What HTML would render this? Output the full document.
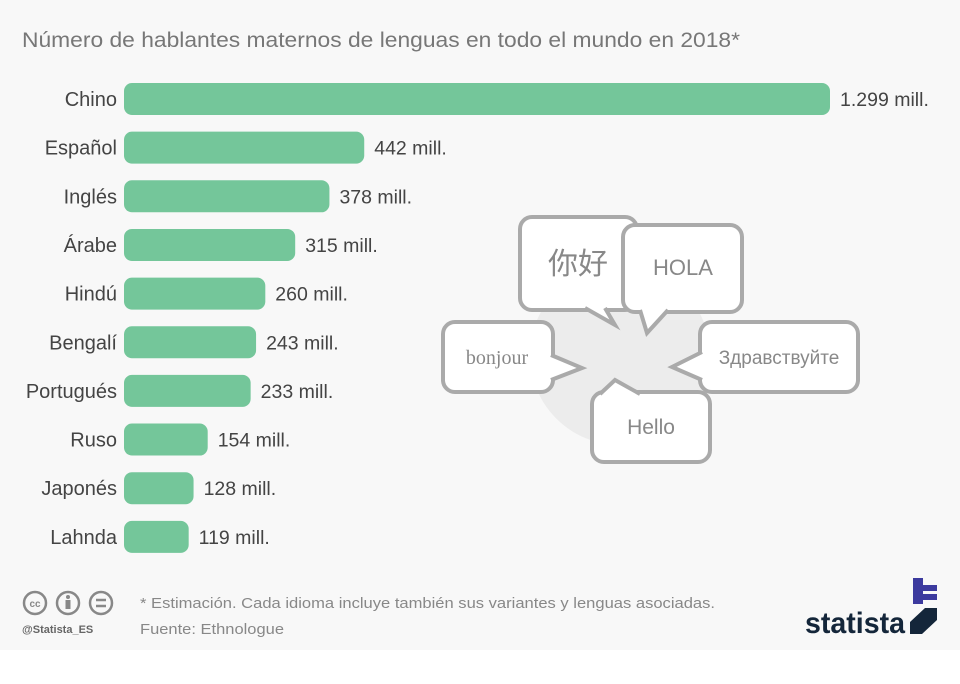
<!DOCTYPE html>
<html><head><meta charset="utf-8"><style>
body{margin:0;width:960px;height:684px;background:#fff;overflow:hidden;font-family:"Liberation Sans","Noto Sans CJK SC",sans-serif}
svg{display:block}
</style></head><body>
<svg width="960" height="684">
<rect x="0" y="0" width="960" height="650" fill="#f8f8f8"/>
<text x="22" y="47" font-size="21" fill="#777" textLength="718" lengthAdjust="spacingAndGlyphs">Número de hablantes maternos de lenguas en todo el mundo en 2018*</text>
<g id="bars"></g>
<g>
<circle cx="620" cy="355" r="90" fill="#ececec"/>
<g id="bubbles"></g>
</g>
<g fill="none" stroke="#888" stroke-width="2.5">
<circle cx="35" cy="603" r="11"/><circle cx="68" cy="603" r="11"/><circle cx="101" cy="603" r="11"/>
<text x="35" y="607" font-size="10" fill="#888" stroke="none" text-anchor="middle" font-weight="bold">cc</text>
<circle cx="68" cy="597" r="2" fill="#888" stroke="none"/><rect x="65.5" y="600" width="5" height="9" fill="#888" stroke="none"/>
<line x1="96" y1="600" x2="106" y2="600"/><line x1="96" y1="606" x2="106" y2="606"/>
</g>
<text x="22" y="633" font-size="11" fill="#666" font-weight="bold">@Statista_ES</text>
<text x="140" y="608" font-size="15" fill="#888" textLength="575" lengthAdjust="spacingAndGlyphs">* Estimación. Cada idioma incluye también sus variantes y lenguas asociadas.</text>
<text x="140" y="634" font-size="15" fill="#888" textLength="144" lengthAdjust="spacingAndGlyphs">Fuente: Ethnologue</text>
<g>
<rect x="913" y="578" width="10" height="26" fill="#3c3a9e"/><rect x="923" y="585" width="14" height="6" fill="#3c3a9e"/><rect x="923" y="594" width="14" height="6" fill="#3c3a9e"/>
<text x="805" y="633" font-size="30" font-weight="bold" fill="#14263a" textLength="100" lengthAdjust="spacingAndGlyphs">statista</text>
<polygon points="910,608 937,608 937,620 922,634 910,634 910,622 925,608" fill="#14263a"/>
</g>
</svg>
<script>
const categories=["Chino","Español","Inglés","Árabe","Hindú","Bengalí","Portugués","Ruso","Japonés","Lahnda"];
const values=[1299,442,378,315,260,243,233,154,128,119];
const valueLabels=["1.299 mill.","442 mill.","378 mill.","315 mill.","260 mill.","243 mill.","233 mill.","154 mill.","128 mill.","119 mill."];
const NS="http://www.w3.org/2000/svg";
const x0=124,scale=706/1299,yStart=99,step=48.65,bh=32;
const xs=v=>v*scale, ys=i=>yStart+i*step;
const g=document.getElementById('bars');
function mk(t,a){const e=document.createElementNS(NS,t);for(const k in a)e.setAttribute(k,a[k]);return e;}
categories.forEach((c,i)=>{
  const y=ys(i),w=xs(values[i]);
  const r=mk('rect',{x:x0,y:y-bh/2,width:w,height:bh,rx:8,fill:'#74c69a'});
  
  
  g.appendChild(r);
  const l=mk('text',{x:117,y:y+7,'font-size':20,fill:'#444','text-anchor':'end'});
  l.textContent=c;
  
  
  g.appendChild(l);
  const v=mk('text',{x:x0+w+10,y:y+7,'font-size':19.5,fill:'#444'});
  v.textContent=valueLabels[i];
  
  
  g.appendChild(v);
});
const bubbles=[
 {x:520,y:217,w:117,h:93,tail:[[585,308],[615,325],[605,308]],t:"你好",tx:578,ty:274,fs:30},
 {x:623,y:225,w:119,h:87,tail:[[640,310],[647,333],[668,310]],t:"HOLA",tx:683,ty:275,fs:22},
 {x:443,y:322,w:110,h:70,tail:[[551,355],[582,368],[551,380]],t:"bonjour",tx:497,ty:364,fs:20},
 {x:700,y:322,w:158,h:70,tail:[[702,352],[672,367],[702,380]],t:"Здравствуйте",tx:779,ty:364,fs:19},
 {x:592,y:392,w:118,h:70,tail:[[600,394],[615,380],[640,394]],t:"Hello",tx:651,ty:434,fs:21}
];
const bg=document.getElementById('bubbles');
bubbles.forEach(b=>{
  const grp=mk('g',{});
  
  
  grp.appendChild(mk('rect',{x:b.x,y:b.y,width:b.w,height:b.h,rx:12,fill:'#fff',stroke:'#aaa','stroke-width':4}));
  grp.appendChild(mk('polygon',{points:b.tail.map(p=>p.join(',')).join(' '),fill:'#fff'}));
  grp.appendChild(mk('polyline',{points:b.tail.map(p=>p.join(',')).join(' '),fill:'none',stroke:'#aaa','stroke-width':4,'stroke-linejoin':'miter'}));
  const t=mk('text',{x:b.tx,y:b.ty,'font-size':b.fs,fill:'#888','text-anchor':'middle'});
  if(b.t==="bonjour")t.setAttribute('font-family','Liberation Serif, serif');
  t.textContent=b.t;grp.appendChild(t);
  bg.appendChild(grp);
});
</script>
</body></html>
